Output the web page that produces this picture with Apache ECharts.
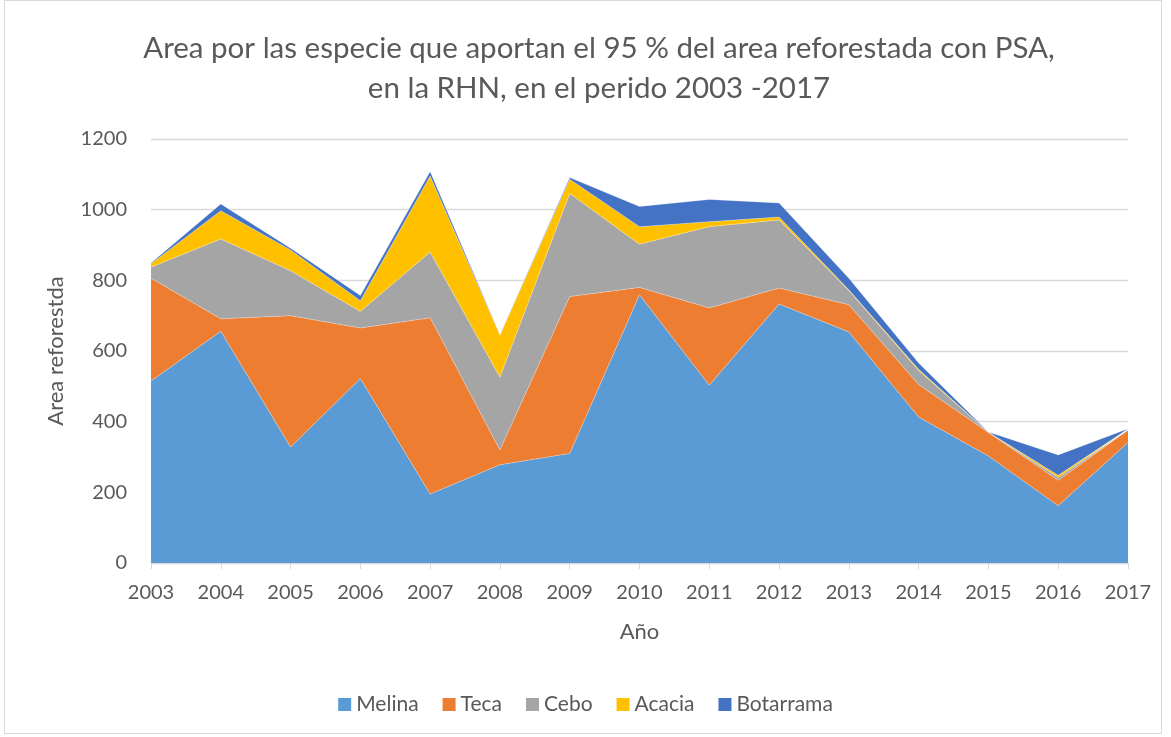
<!DOCTYPE html>
<html>
<head>
<meta charset="utf-8">
<script src="https://cdn.jsdelivr.net/npm/echarts@6/dist/echarts.min.js"></script>
<style>
html,body{margin:0;padding:0;background:#fff;}
#frame{position:absolute;left:4px;top:0;width:1158px;height:734px;border:1px solid #d9d9d9;box-sizing:border-box;}
#chart{position:absolute;left:0;top:0;width:1171px;height:737px;}
</style>
</head>
<body>
<div id="frame"></div>
<div id="chart"></div>
<script>
const years = ['2003','2004','2005','2006','2007','2008','2009','2010','2011','2012','2013','2014','2015','2016','2017'];
const melina    = [515, 656, 328, 522, 195, 278, 310, 759, 503, 733, 654, 413, 303, 162, 341];
const teca      = [291,  35, 372, 143, 499,  42, 444,  21, 219,  45,  77,  92,  66,  72,  35];
const cebo      = [ 31, 226, 127,  47, 186, 206, 292, 122, 230, 193,  40,  40,   1,   8,   1];
const acacia    = [ 10,  80,  59,  30, 215, 119,  40,  50,  14,   8,   2,   3,   0,   6,   1];
const botarrama = [  2,  19,   5,  15,  13,   1,   5,  57,  63,  40,  33,  18,   1,  58,   2];
const yTicks = [0, 200, 400, 600, 800, 1000, 1200];

const FONT = 'Lato, "Open Sans", sans-serif';
const TXT = '#595959';
const names = ['Melina','Teca','Cebo','Acacia','Botarrama'];
const colors = ['#5B9BD5','#ED7D31','#A5A5A5','#FFC000','#4472C4'];
const datas = [melina, teca, cebo, acacia, botarrama];

const chart = echarts.init(document.getElementById('chart'), null, {renderer:'canvas'});
chart.setOption({
  animation:false,
  textStyle:{fontFamily:FONT},
  title:{
    text:'Area por las especie que aportan el 95 % del area reforestada con PSA,\nen la RHN, en el perido 2003 -2017',
    left:594, top:23, textAlign:'center',
    textStyle:{fontFamily:FONT, fontSize:29.5, fontWeight:'normal', color:TXT, lineHeight:40, align:'center'}
  },
  legend:{
    data:names, bottom:17, left:'center',
    itemWidth:13, itemHeight:13, itemGap:24,
    icon:'rect',
    textStyle:{fontFamily:FONT, fontSize:21, color:TXT}
  },
  grid:{left:151, right:43, top:139, bottom:174, containLabel:false},
  xAxis:{
    type:'category', data:years, boundaryGap:false,
    name:'Año', nameLocation:'middle', nameGap:58,
    nameTextStyle:{fontFamily:FONT, fontSize:22, color:TXT},
    axisLine:{lineStyle:{color:'#d9d9d9'}},
    axisTick:{show:true, length:6, lineStyle:{color:'#d9d9d9'}},
    axisLabel:{fontFamily:FONT, fontSize:20, color:TXT, margin:20}
  },
  yAxis:{
    type:'value', min:0, max:1200, interval:200,
    name:'Area reforestda', nameLocation:'middle', nameGap:84, nameRotate:90,
    nameTextStyle:{fontFamily:FONT, fontSize:22, color:TXT},
    axisLine:{show:false}, axisTick:{show:false},
    splitLine:{lineStyle:{color:'#d9d9d9', width:1.3}},
    axisLabel:{fontFamily:FONT, fontSize:20, color:TXT, margin:24,
      formatter:(v)=> yTicks.includes(v) ? String(v) : ''}
  },
  series: names.map((n,i)=>({
    name:n, type:'line', stack:'total', data:datas[i],
    symbol:'none', color:colors[i],
    lineStyle:{width:0.6, color:'rgba(255,255,255,0.5)'},
    areaStyle:{color:colors[i], opacity:1},
    itemStyle:{color:colors[i]}
  }))
});
</script>
</body>
</html>
